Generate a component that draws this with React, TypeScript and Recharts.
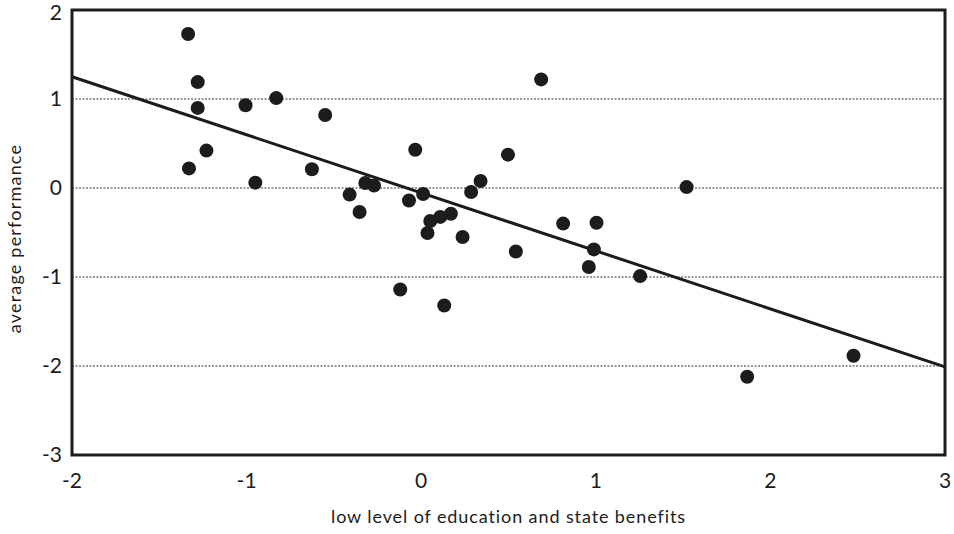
import {
  ScatterChart,
  Scatter,
  XAxis,
  YAxis,
  CartesianGrid,
  ReferenceLine,
  ReferenceArea,
} from "recharts";

const xValues = [
  -1.335, -1.28, -1.28, -1.006, -0.83, -1.23, -1.33, -0.95, -0.626, -0.55,
  0.687, -0.034, 0.497, -0.32, -0.27, -0.41, -0.353, -0.07, 0.011, 0.34,
  0.286, 0.17, 0.109, 0.052, 0.036, 0.237, 0.813, 1.004, 0.542, 0.989,
  0.96, -0.12, 0.132, 1.254, 1.867, 2.476, 1.52,
];
const yValues = [
  1.73, 1.19, 0.9, 0.93, 1.01, 0.42, 0.22, 0.06, 0.21, 0.82,
  1.22, 0.43, 0.375, 0.056, 0.027, -0.074, -0.27, -0.14, -0.067, 0.079,
  -0.045, -0.29, -0.325, -0.37, -0.505, -0.55, -0.4, -0.39, -0.714, -0.69,
  -0.887, -1.14, -1.32, -0.99, -2.12, -1.885, 0.01,
];
const xTicks = [-2, -1, 0, 1, 2, 3];
const yTicks = [-3, -2, -1, 0, 1, 2];
const fitLine = [
  { x: -2, y: 1.25 },
  { x: 3, y: -2.01 },
];

const points = xValues.map((x, i) => ({ x, y: yValues[i] }));

const ink = "#1c1c1c";
const font = "Lato, 'DejaVu Sans', sans-serif";

const App = () => {
  return (
    <div style={{ position: "absolute", left: 0, top: 0, background: "#fff" }}>
      <ScatterChart
        width={954}
        height={534}
        margin={{ top: 10, right: 9, bottom: 0, left: 0 }}
      >
        <CartesianGrid
          vertical={false}
          stroke="#333"
          strokeDasharray="2 1.5"
          horizontalValues={[-2, -1, 0, 1]}
        />
        <XAxis
          type="number"
          dataKey="x"
          domain={[-2, 3]}
          ticks={xTicks}
          height={79}
          axisLine={false}
          tickLine={false}
          tickMargin={12}
          tick={{ fill: ink, fontSize: 21, fontFamily: font }}
          label={{
            value: "low level of education and state benefits",
            position: "insideBottom",
            offset: 11,
            fill: ink,
            fontSize: 18,
            fontFamily: font,
            style: { letterSpacing: "0.9px" },
          }}
        />
        <YAxis
          type="number"
          dataKey="y"
          domain={[-3, 2]}
          ticks={yTicks}
          width={72}
          axisLine={false}
          tickLine={false}
          tickMargin={4}
          tick={{ fill: ink, fontSize: 21, fontFamily: font }}
          label={{
            value: "average performance",
            angle: -90,
            position: "insideLeft",
            offset: 15,
            dy: 6,
            fill: ink,
            fontSize: 18,
            fontFamily: font,
            style: { textAnchor: "middle", letterSpacing: "1.2px" },
          }}
        />
        <ReferenceArea
          x1={-2}
          x2={3}
          y1={-3}
          y2={2}
          fill="none"
          stroke={ink}
          strokeWidth={3}
          ifOverflow="visible"
        />
        <ReferenceLine
          segment={fitLine}
          stroke={ink}
          strokeWidth={3}
          ifOverflow="visible"
        />
        <Scatter
          data={points}
          fill={ink}
          isAnimationActive={false}
          shape={(props: any) => (
            <circle cx={props.cx} cy={props.cy} r={7} fill={ink} />
          )}
        />
      </ScatterChart>
    </div>
  );
};

export default App;
